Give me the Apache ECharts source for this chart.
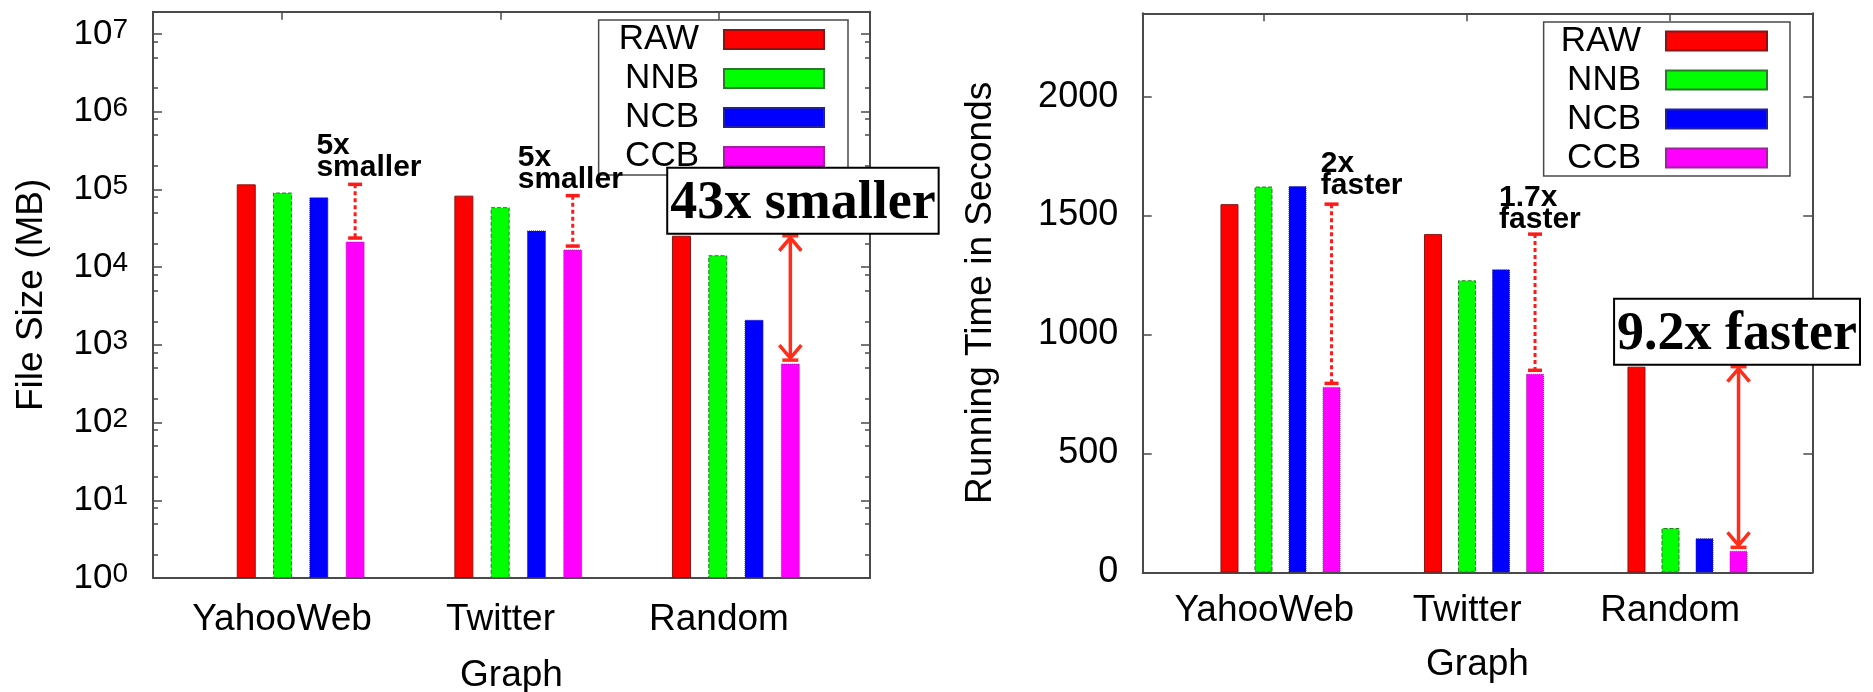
<!DOCTYPE html>
<html><head><meta charset="utf-8">
<script src="https://cdn.jsdelivr.net/npm/echarts@6/dist/echarts.min.js"></script>
<style>html,body{margin:0;padding:0;background:#fff}#c{width:1873px;height:692px}</style>
</head><body><div id="c"></div>
<script>
// ---------------- data ----------------
const categories = ['YahooWeb', 'Twitter', 'Random'];
const seriesNames = ['RAW', 'NNB', 'NCB', 'CCB'];
// File size (MB), log scale
const sizeRAW = [116000, 83000, 25300];
const sizeNNB = [91000, 59000, 14200];
const sizeNCB = [79000, 29600, 2100];
const sizeCCB = [21300, 16800, 573];
// Running time (seconds)
const timeRAW = [1548, 1422, 865];
const timeNNB = [1622, 1228, 187];
const timeNCB = [1624, 1274, 144];
const timeCCB = [780, 835, 91];
// annotations
const sizeNotes = ['5x\nsmaller', '5x\nsmaller', '43x smaller'];
const timeNotes = ['2x\nfaster', '1.7x\nfaster', '9.2x faster'];
const noteKinds = ['dotted', 'dotted', 'arrow'];
// ticks
const logTickValues = [1, 10, 100, 1e3, 1e4, 1e5, 1e6, 1e7];
const logMinorMantissas = [2, 5, 8];
const timeTickValues = [0, 500, 1000, 1500, 2000];
const categoryTickValues = [0, 1, 2];

// ---------------- layout / style ----------------
const FONT = "'Liberation Sans', Arial, Helvetica, sans-serif";
const SERIF = "'Liberation Serif', 'Times New Roman', serif";
const FRAME = '#4a4a4a';
const sizeMax = 1.93e7, timeMax = 2350;
const logMinorValues = [];
for (let k = 0; k <= 7; k++) logMinorMantissas.forEach(m => { const v = m * Math.pow(10, k); if (v < sizeMax) logMinorValues.push(v); });

const barStyles = [
  {color: '#ff0000', borderColor: '#8a1414', borderWidth: 1},
  {color: '#00ff00', borderColor: '#2a7a2a', borderWidth: 1, borderType: 'dashed'},
  {color: '#0000ff', borderColor: '#2020a0', borderWidth: 1, borderType: 'dotted'},
  {color: '#ff00ff', borderColor: '#a020a0', borderWidth: 1, borderType: 'dotted'}
];
const leftBar = {width: 19, gap: 0.91};
const rightBar = {width: 18, gap: 0.89};
const leftLabelOffsets = [[-38.7, 6.6], [-55, 5.8]];
const rightLabelOffsets = [[-10.7, 8], [-36, 4.8]];
const leftBoxDx = 12.6, rightBoxDx = -1.5;

function noteRenderer(notes, bar, labelOffsets, boxDx) {
  return function (params, api) {
    const i = api.value(0);
    const pt = api.coord([i, api.value(1)]);
    const pb = api.coord([i, api.value(2)]);
    const x = pt[0] + 1.5 * bar.width * (1 + bar.gap);
    const yTop = pt[1];
    const yCap = pb[1] - 3.5;
    const children = [];
    if (noteKinds[i] === 'dotted') {
      const red = '#ff1a1a';
      const cap = y => ({type: 'line', shape: {x1: x - 7, y1: y, x2: x + 7, y2: y}, style: {stroke: red, lineWidth: 3.5}});
      children.push({type: 'line', shape: {x1: x, y1: yTop, x2: x, y2: yCap}, style: {stroke: red, lineWidth: 3, lineDash: [4, 3]}});
      children.push(cap(yTop), cap(yCap));
      const off = labelOffsets[i];
      children.push({type: 'text', style: {text: notes[i], x: x + off[0], y: yTop - off[1] + 1, align: 'left', verticalAlign: 'bottom',
        fontSize: 30, fontWeight: 'bold', fontFamily: FONT, lineHeight: 22, fill: '#000'}});
    } else {
      const red = '#ff2d1a';
      const aw = 11, ah = 13;
      const cap = y => ({type: 'line', shape: {x1: x - 8, y1: y, x2: x + 8, y2: y}, style: {stroke: red, lineWidth: 3.5}});
      children.push({type: 'line', shape: {x1: x, y1: yTop + 2, x2: x, y2: yCap - 2}, style: {stroke: red, lineWidth: 3.5}});
      children.push({type: 'polyline', shape: {points: [[x - aw, yTop + ah + 2], [x, yTop + 2], [x + aw, yTop + ah + 2]]}, style: {stroke: red, lineWidth: 3.5, fill: null}});
      children.push({type: 'polyline', shape: {points: [[x - aw, yCap - ah - 2], [x, yCap - 2], [x + aw, yCap - ah - 2]]}, style: {stroke: red, lineWidth: 3.5, fill: null}});
      children.push(cap(yTop), cap(yCap));
      children.push({type: 'text', z2: 20, style: {text: notes[i], x: x + boxDx, y: yTop - 3, align: 'center', verticalAlign: 'bottom',
        fontSize: 54, fontWeight: 'bold', fontFamily: SERIF, lineHeight: 58, fill: '#000',
        backgroundColor: '#fff', borderColor: '#000', borderWidth: 2, padding: [6, 2, 0, 2]}});
    }
    return {type: 'group', children};
  };
}

function frameX(gridIndex, min, max, withLabels, nameGap, labelMargin) {
  const base = {
    type: 'value', gridIndex, min, max,
    axisLine: {show: true, onZero: false, lineStyle: {color: FRAME, width: 2}},
    splitLine: {show: false}
  };
  if (withLabels) {
    return Object.assign(base, {
      position: 'bottom',
      axisTick: {show: false},
      axisLabel: {show: true, customValues: categoryTickValues, formatter: v => categories[Math.round(v)],
        fontSize: 37, fontFamily: FONT, color: '#000', margin: labelMargin, verticalAlign: 'middle'},
      name: 'Graph', nameLocation: 'middle', nameGap,
      nameTextStyle: {fontSize: 37, fontFamily: FONT, color: '#000', verticalAlign: 'middle'}
    });
  }
  return Object.assign(base, {
    position: 'top',
    axisTick: {show: true, inside: true, length: 8, customValues: categoryTickValues, lineStyle: {color: FRAME, width: 1.5}},
    axisLabel: {show: false}
  });
}

function tickAxis(gridIndex, type, max, position, ticks, len, showLine) {
  return {
    type, gridIndex, min: type === 'log' ? 1 : 0, max, position, logBase: 10,
    axisLine: {show: showLine, onZero: false, lineStyle: {color: FRAME, width: 2}},
    axisTick: {show: true, inside: true, length: len, customValues: ticks, lineStyle: {color: FRAME, width: 1.5}},
    axisLabel: {show: false}, splitLine: {show: false}, minorTick: {show: false}
  };
}

const sizeSeries = [sizeRAW, sizeNNB, sizeNCB, sizeCCB];
const timeSeries = [timeRAW, timeNNB, timeNCB, timeCCB];

const leftY = tickAxis(0, 'log', sizeMax, 'left', logTickValues, 9, true);
Object.assign(leftY, {
  axisLabel: {show: true, customValues: logTickValues, margin: 25, verticalAlign: 'middle',
    formatter: v => '{b|10}{s|' + Math.round(Math.log10(v)) + '}',
    rich: {
      b: {fontSize: 35, lineHeight: 35, fontFamily: FONT, color: '#000', verticalAlign: 'bottom'},
      s: {fontSize: 28, lineHeight: 28, fontFamily: FONT, color: '#000', verticalAlign: 'top', padding: [0, 0, 20, 0]}
    }},
  name: 'File Size (MB)', nameLocation: 'middle', nameRotate: 90, nameGap: 121,
  nameTextStyle: {fontSize: 37, fontFamily: FONT, color: '#000', verticalAlign: 'middle', align: 'center'}
});
const rightY = tickAxis(2, 'value', timeMax, 'left', timeTickValues, 9, true);
Object.assign(rightY, {
  interval: 500,
  axisLabel: {show: true, customValues: timeTickValues, margin: 24.5, fontSize: 36, fontFamily: FONT, color: '#000',
    verticalAlign: 'middle', formatter: v => String(v)},
  name: 'Running Time in Seconds', nameLocation: 'middle', nameRotate: 90, nameGap: 162,
  nameTextStyle: {fontSize: 37, fontFamily: FONT, color: '#000', verticalAlign: 'middle', align: 'center'}
});

function legendFor(top, right, itemWidth, padding) {
  return {
    data: seriesNames, orient: 'vertical', align: 'right', icon: 'rect', selectedMode: false,
    itemWidth, itemHeight: 19, itemGap: 4, top, right, padding,
    borderColor: FRAME, borderWidth: 1.5, backgroundColor: '#fff', z: 4,
    textStyle: {fontSize: 35, fontFamily: FONT, color: '#000', padding: [0, 20, 0, 0]}
  };
}

const option = {
  animation: false,
  backgroundColor: '#fff',
  grid: [
    {left: 153, top: 11.7, width: 717, height: 566.3, outerBoundsMode: 'none'},
    {left: 191.9, top: 11.7, width: 652.8, height: 566.3, outerBoundsMode: 'none'},
    {left: 1142.7, top: 13.3, width: 669.6, height: 559.2, outerBoundsMode: 'none'},
    {left: 1178.75, top: 13.3, width: 610.5, height: 559.2, outerBoundsMode: 'none'}
  ],
  xAxis: [
    frameX(0, -0.5904, 2.6911, true, 98, 42),
    frameX(0, -0.5904, 2.6911, false),
    {type: 'category', gridIndex: 1, data: categories, show: false},
    frameX(2, -0.599, 2.701, true, 92, 38.5),
    frameX(2, -0.599, 2.701, false),
    {type: 'category', gridIndex: 3, data: categories, show: false}
  ],
  yAxis: [
    leftY,
    tickAxis(0, 'log', sizeMax, 'left', logMinorValues, 5, false),
    tickAxis(0, 'log', sizeMax, 'right', logTickValues, 9, true),
    tickAxis(0, 'log', sizeMax, 'right', logMinorValues, 5, false),
    {type: 'log', logBase: 10, gridIndex: 1, min: 1, max: sizeMax, show: false},
    rightY,
    tickAxis(2, 'value', timeMax, 'right', timeTickValues, 9, true),
    {type: 'value', gridIndex: 3, min: 0, max: timeMax, show: false}
  ],
  legend: [
    legendFor(20, 1025, 100, [2, 23, 1, 20]),
    legendFor(22, 83, 101, [1.5, 22, 0.5, 17])
  ],
  series: [
    ...seriesNames.map((n, k) => ({type: 'bar', name: n, xAxisIndex: 2, yAxisIndex: 4, data: sizeSeries[k],
      barWidth: leftBar.width, barGap: (leftBar.gap * 100) + '%', itemStyle: barStyles[k], silent: true})),
    ...seriesNames.map((n, k) => ({type: 'bar', name: n, xAxisIndex: 5, yAxisIndex: 7, data: timeSeries[k],
      barWidth: rightBar.width, barGap: (rightBar.gap * 100) + '%', itemStyle: barStyles[k], silent: true})),
    {type: 'custom', xAxisIndex: 2, yAxisIndex: 4, z: 10, silent: true, clip: false,
      data: categories.map((c, i) => [i, sizeRAW[i], sizeCCB[i]]),
      renderItem: noteRenderer(sizeNotes, leftBar, leftLabelOffsets, leftBoxDx)},
    {type: 'custom', xAxisIndex: 5, yAxisIndex: 7, z: 10, silent: true, clip: false,
      data: categories.map((c, i) => [i, timeRAW[i], timeCCB[i]]),
      renderItem: noteRenderer(timeNotes, rightBar, rightLabelOffsets, rightBoxDx)}
  ]
};
const chart = echarts.init(document.getElementById('c'), null, {renderer: 'canvas'});
chart.setOption(option);
</script>
</body></html>
